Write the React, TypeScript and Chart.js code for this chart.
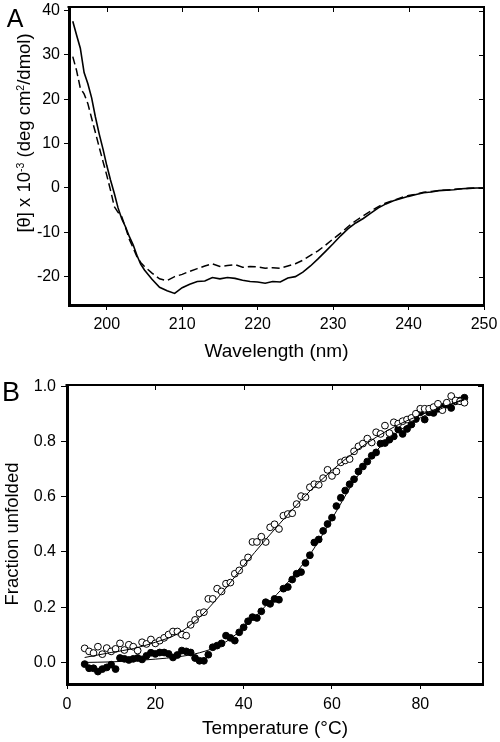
import React, { useEffect, useRef } from "react";
import { Chart, registerables } from "chart.js";

Chart.register(...registerables);

const FONT = "'Liberation Sans', Arial, Helvetica, sans-serif";

// ---------- Panel A: CD spectra ----------
const wavelengths = [
  195.5, 196, 196.5, 197, 197.5, 198, 198.5, 199, 199.5, 200, 200.5, 201, 201.5, 202, 202.5, 203, 203.5, 204, 204.5, 205,
  206, 207, 208, 209, 210, 211, 212, 213, 214, 215, 216, 217, 218, 219, 220, 221, 222, 223, 224, 225,
  226, 227, 228, 229, 230, 231, 232, 233, 234, 235, 236, 237, 238, 239, 240, 241, 242, 243, 244, 245,
  246, 247, 248, 249, 250,
];
const ellipticitySolid = [
  37.6, 34.5, 31.5, 26.0, 23.5, 20.3, 16.0, 12.2, 8.8, 5.1, 1.8, -1.2, -4.5, -7.0, -8.8, -11.0, -12.8, -15.2, -17.2, -18.5,
  -20.6, -22.4, -23.2, -23.8, -22.5, -21.7, -21.1, -21.0, -20.2, -20.5, -20.2, -20.4, -20.8, -21.1, -21.2, -21.5, -21.1, -21.2, -20.3, -20.0,
  -19.0, -17.6, -16.0, -14.3, -12.6, -10.8, -9.2, -7.9, -6.9, -5.7, -4.5, -3.6, -2.9, -2.4, -1.9, -1.5, -1.1, -0.9, -0.6, -0.5,
  -0.4, -0.2, -0.1, 0.0, 0.0,
];
const ellipticityDashed = [
  29.6, 26.5, 22.5, 21.2, 19.0, 15.7, 12.5, 9.2, 6.0, 2.9, -0.5, -4.2, -5.5, -6.5, -9.0, -11.6, -13.5, -15.5, -16.8, -17.7,
  -19.2, -20.5, -20.9, -20.0, -19.5, -18.8, -18.2, -17.6, -17.1, -17.7, -17.5, -17.3, -17.9, -17.7, -17.8, -18.1, -18.0, -18.1, -17.6, -17.1,
  -16.3, -15.2, -14.2, -12.9, -11.5, -10.2, -8.7, -7.4, -6.3, -5.2, -4.2, -3.4, -2.8, -2.2, -1.7, -1.4, -1.0, -0.8, -0.6, -0.5,
  -0.3, -0.2, -0.1, 0.0, 0.0,
];
const wavelengthTicks = [200, 210, 220, 230, 240, 250];
const ellipticityTicks = [-20, -10, 0, 10, 20, 30, 40];

// ---------- Panel B: thermal unfolding ----------
const temperatures = [
  4, 5, 6, 7, 8, 9, 10, 11, 12, 13, 14, 15, 16, 17, 18, 19, 20, 21, 22, 23, 24, 25, 26, 27, 28, 29, 30, 31, 32, 33,
  34, 35, 36, 37, 38, 39, 40, 41, 42, 43, 44, 45, 46, 47, 48, 49, 50, 51, 52, 53, 54, 55, 56, 57, 58, 59, 60, 61, 62, 63,
  64, 65, 66, 67, 68, 69, 70, 71, 72, 73, 74, 75, 76, 77, 78, 79, 80, 81, 82, 83, 84, 85, 86, 87, 88, 89, 90,
];
const fractionOpen = [
  0.051, 0.040, 0.034, 0.057, 0.030, 0.052, 0.040, 0.049, 0.069, 0.045, 0.064, 0.057, 0.043, 0.073, 0.067, 0.083, 0.069, 0.079, 0.089, 0.101,
  0.112, 0.112, 0.101, 0.097, 0.136, 0.154, 0.178, 0.182, 0.230, 0.230, 0.267, 0.257, 0.285, 0.289, 0.321, 0.333, 0.360, 0.380, 0.436, 0.436,
  0.455, 0.436, 0.489, 0.500, 0.483, 0.531, 0.537, 0.540, 0.573, 0.602, 0.598, 0.634, 0.645, 0.643, 0.667, 0.697, 0.675, 0.691, 0.724, 0.731,
  0.736, 0.764, 0.782, 0.792, 0.810, 0.796, 0.833, 0.827, 0.857, 0.830, 0.869, 0.864, 0.873, 0.879, 0.885, 0.900, 0.918, 0.918, 0.918, 0.924,
  0.936, 0.913, 0.940, 0.964, 0.948, 0.945, 0.940,
];
const fractionFilled = [
  -0.006, -0.021, -0.021, -0.033, -0.024, -0.018, -0.008, -0.024, 0.016, 0.013, 0.009, 0.013, 0.016, 0.011, 0.024, 0.035, 0.031, 0.036, 0.036, 0.031,
  0.018, 0.027, 0.043, 0.040, 0.036, 0.016, 0.006, 0.006, 0.028, 0.055, 0.061, 0.069, 0.097, 0.089, 0.079, 0.109, 0.127, 0.149, 0.164, 0.161,
  0.185, 0.218, 0.212, 0.230, 0.227, 0.267, 0.273, 0.300, 0.321, 0.327, 0.360, 0.388, 0.434, 0.445, 0.476, 0.501, 0.524, 0.566, 0.596, 0.622,
  0.645, 0.663, 0.691, 0.709, 0.727, 0.748, 0.760, 0.792, 0.794, 0.806, 0.818, 0.843, 0.827, 0.845, 0.861, 0.881, 0.905, 0.879, 0.905, 0.903,
  0.918, 0.925, 0.933, 0.921, 0.945, 0.948, 0.958,
];
const fitTemperatures = [4, 10, 15, 20, 25, 30, 35, 40, 45, 50, 55, 60, 65, 70, 75, 80, 85, 90];
const fitOpen = [0.018, 0.036, 0.05, 0.073, 0.103, 0.163, 0.25, 0.35, 0.445, 0.535, 0.62, 0.695, 0.76, 0.815, 0.86, 0.895, 0.925, 0.95];
const fitFilled = [0.0, 0.002, 0.006, 0.012, 0.02, 0.035, 0.065, 0.125, 0.205, 0.29, 0.39, 0.52, 0.655, 0.765, 0.835, 0.885, 0.92, 0.955];
const temperatureTicks = [0, 20, 40, 60, 80];
const fractionTicks = [0, 0.2, 0.4, 0.6, 0.8, 1.0];

type Part = { t: string; sup?: boolean };

function drawRich(ctx: CanvasRenderingContext2D, parts: Part[], x: number, y: number, rotate: boolean, size: number, supSize: number, rise: number) {
  ctx.save();
  ctx.translate(x, y);
  if (rotate) ctx.rotate(-Math.PI / 2);
  ctx.textBaseline = "alphabetic";
  ctx.textAlign = "left";
  ctx.fillStyle = "#000";
  let total = 0;
  const widths = parts.map((p) => {
    ctx.font = `${p.sup ? supSize : size}px ${FONT}`;
    const w = ctx.measureText(p.t).width;
    total += w;
    return w;
  });
  let cx = -total / 2;
  parts.forEach((p, i) => {
    ctx.font = `${p.sup ? supSize : size}px ${FONT}`;
    ctx.fillText(p.t, cx, p.sup ? -rise : 0);
    cx += widths[i];
  });
  ctx.restore();
}

const framePlugin = {
  id: "frame",
  afterDraw(chart: any, _args: any, opts: any) {
    const { ctx, chartArea: a, scales } = chart;
    const xs = scales.x;
    const ys = scales.y;
    ctx.save();
    ctx.strokeStyle = "#000";
    ctx.lineWidth = 2;
    ctx.beginPath();
    ctx.moveTo(a.left - 1.5, a.top);
    ctx.lineTo(a.right, a.top);
    ctx.lineTo(a.right, a.bottom + 1.5);
    ctx.stroke();
    ctx.lineWidth = 1;
    ctx.beginPath();
    for (const v of opts.xTicks) {
      const px = Math.round(xs.getPixelForValue(v)) + 0.5;
      ctx.moveTo(px, a.top);
      ctx.lineTo(px, a.top + 5);
    }
    for (const v of opts.yTicks) {
      const py = Math.round(ys.getPixelForValue(v)) + 0.5;
      ctx.moveTo(a.right, py);
      ctx.lineTo(a.right - 5, py);
    }
    ctx.stroke();
    for (const t of opts.texts) {
      drawRich(ctx, t.parts, t.x, t.y, !!t.rotate, t.size, t.supSize || t.size, t.rise || 0);
    }
    ctx.restore();
  },
};

function axisBase(min: number, max: number, tickVals: number[], tickLength: number, padding: number, fmt: (v: number) => string, fitFn: (s: any) => void) {
  return {
    type: "linear" as const,
    min,
    max,
    afterBuildTicks: (s: any) => {
      s.ticks = tickVals.map((v) => ({ value: v }));
    },
    afterFit: (s: any) => {
      fitFn(s);
      s.paddingTop = 0;
      s.paddingBottom = 0;
      s.paddingLeft = 0;
      s.paddingRight = 0;
    },
    grid: { display: true, drawOnChartArea: false, drawTicks: true, tickLength, color: "#000", tickColor: "#000", tickWidth: 1 },
    border: { display: true, color: "#000", width: 3 },
    ticks: { font: { family: FONT, size: 16 }, color: "#000", padding, autoSkip: false, maxRotation: 0, callback: (v: any) => fmt(Number(v)) },
  };
}

const A_W = 500;
const A_H = 372;
const B_H = 370;

export default function App() {
  const refA = useRef<HTMLCanvasElement>(null);
  const refB = useRef<HTMLCanvasElement>(null);

  useEffect(() => {
    const chartA = new Chart(refA.current as HTMLCanvasElement, {
      type: "line",
      data: {
        datasets: [
          {
            data: wavelengths.map((x, i) => ({ x, y: ellipticitySolid[i] })),
            borderColor: "#000",
            borderWidth: 1.6,
            pointRadius: 0,
            fill: false,
            tension: 0,
          },
          {
            data: wavelengths.map((x, i) => ({ x, y: ellipticityDashed[i] })),
            borderColor: "#000",
            borderWidth: 1.5,
            borderDash: [8, 4],
            pointRadius: 0,
            fill: false,
            tension: 0,
          },
        ],
      },
      options: {
        animation: false,
        responsive: false,
        devicePixelRatio: 1,
        layout: { padding: { top: 7, right: 16, left: 0, bottom: 0 } },
        plugins: {
          legend: { display: false },
          tooltip: { enabled: false },
          frame: {
            xTicks: wavelengthTicks,
            yTicks: ellipticityTicks,
            texts: [
              { parts: [{ t: "A" }], x: 15, y: 27, size: 25 },
              { parts: [{ t: "Wavelength (nm)" }], x: 276.5, y: 357, size: 19 },
              {
                parts: [
                  { t: "[θ] x 10" },
                  { t: "-3", sup: true },
                  { t: " (deg cm" },
                  { t: "2", sup: true },
                  { t: "/dmol)" },
                ],
                x: 30,
                y: 133,
                rotate: true,
                size: 18.5,
                supSize: 10.5,
                rise: 6,
              },
            ],
          },
        } as any,
        scales: {
          x: axisBase(195, 250, wavelengthTicks, 5, 5, (v) => String(v), (s) => { s.height = A_H - 305; }),
          y: axisBase(-26.4, 40.8, ellipticityTicks, 5, 4, (v) => String(v), (s) => { s.width = 69; }),
        } as any,
      },
      plugins: [framePlugin],
    });

    const chartB = new Chart(refB.current as HTMLCanvasElement, {
      type: "line",
      data: {
        datasets: [
          {
            data: fitTemperatures.map((x, i) => ({ x, y: fitOpen[i] })),
            borderColor: "#000",
            borderWidth: 1,
            pointRadius: 0,
            fill: false,
            cubicInterpolationMode: "monotone",
          },
          {
            data: fitTemperatures.map((x, i) => ({ x, y: fitFilled[i] })),
            borderColor: "#000",
            borderWidth: 1,
            pointRadius: 0,
            fill: false,
            cubicInterpolationMode: "monotone",
          },
          {
            data: temperatures.map((x, i) => ({ x, y: fractionOpen[i] })),
            showLine: false,
            pointRadius: 3.4,
            pointStyle: "circle",
            pointBackgroundColor: "#fff",
            pointBorderColor: "#000",
            pointBorderWidth: 1,
          },
          {
            data: temperatures.map((x, i) => ({ x, y: fractionFilled[i] })),
            showLine: false,
            pointRadius: 3.4,
            pointStyle: "circle",
            pointBackgroundColor: "#000",
            pointBorderColor: "#000",
            pointBorderWidth: 1,
          },
        ],
      },
      options: {
        animation: false,
        responsive: false,
        devicePixelRatio: 1,
        layout: { padding: { top: 13, right: 17, left: 0, bottom: 0 } },
        plugins: {
          legend: { display: false },
          tooltip: { enabled: false },
          frame: {
            xTicks: temperatureTicks,
            yTicks: fractionTicks,
            texts: [
              { parts: [{ t: "B" }], x: 11, y: 29, size: 27 },
              { parts: [{ t: "Temperature (°C)" }], x: 275, y: 362, size: 19 },
              { parts: [{ t: "Fraction unfolded" }], x: 18, y: 162, rotate: true, size: 18.5 },
            ],
          },
        } as any,
        scales: {
          x: axisBase(0, 94.2, temperatureTicks, 5, 6, (v) => String(v), (s) => { s.height = B_H - 312; }),
          y: axisBase(-0.078, 1.004, fractionTicks, 6, 5, (v) => v.toFixed(1), (s) => { s.width = 67; }),
        } as any,
      },
      plugins: [framePlugin],
    });

    return () => {
      chartA.destroy();
      chartB.destroy();
    };
  }, []);

  return (
    <div style={{ position: "absolute", left: 0, top: 0, width: A_W, height: A_H + B_H, background: "#fff" }}>
      <canvas ref={refA} width={A_W} height={A_H} style={{ display: "block", width: A_W, height: A_H }} />
      <canvas ref={refB} width={A_W} height={B_H} style={{ display: "block", width: A_W, height: B_H }} />
    </div>
  );
}
